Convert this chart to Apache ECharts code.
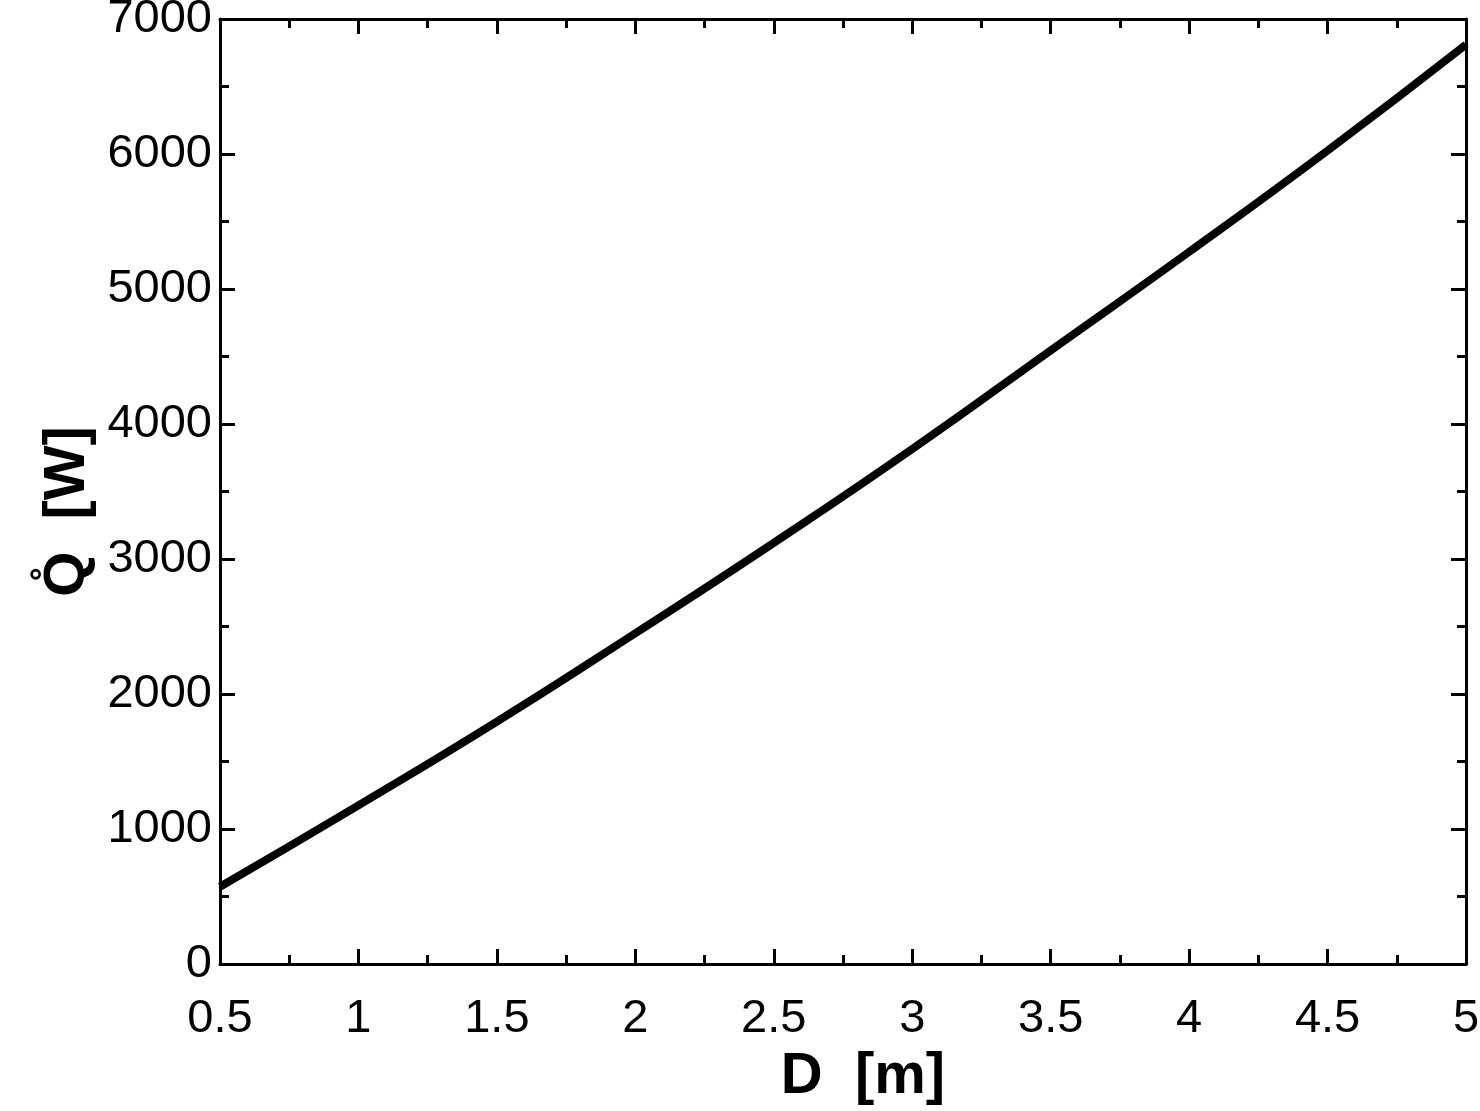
<!DOCTYPE html>
<html><head><meta charset="utf-8">
<script src="https://cdn.jsdelivr.net/npm/echarts@6/dist/echarts.min.js"></script>
<style>html,body{margin:0;padding:0;background:#fff}#c{width:1480px;height:1111px}</style>
</head><body><div id="c"></div>
<script>
const diameters = [0.5, 1, 1.5, 2, 2.5, 3, 3.5, 4, 4.5, 5];
const heatRate = [572, 1175, 1795, 2450, 3120, 3815, 4545, 5275, 6025, 6810];
const xName = 'D  [m]';
const yName = 'Q\u030A  [W]';
const FONT = 'Liberation Sans';

const chart = echarts.init(document.getElementById('c'));
const axisLine = () => ({show: true, onZero: false, lineStyle: {color: '#000', width: 3}});
const tick = () => ({show: true, inside: true, length: 15, lineStyle: {color: '#000', width: 3}});
const minor = () => ({show: true, splitNumber: 2, length: 9, lineStyle: {color: '#000', width: 3}});
chart.setOption({
  animation: false,
  grid: {left: 220, right: 14, top: 19, bottom: 147, containLabel: false, outerBoundsMode: 'none'},
  xAxis: [{
    type: 'value', min: 0.5, max: 5, interval: 0.5, position: 'bottom',
    name: xName, nameLocation: 'middle', nameGap: 80,
    nameTextStyle: {fontFamily: FONT, fontWeight: 'bold', fontSize: 58, color: '#000', padding: [0, 0, 0, 40]},
    axisLine: axisLine(), axisTick: tick(), minorTick: minor(), splitLine: {show: false},
    axisLabel: {fontFamily: FONT, fontSize: 47, color: '#000', margin: 32,
      formatter: v => String(v)}
  }, {
    type: 'value', min: 0.5, max: 5, interval: 0.5, position: 'top',
    axisLine: axisLine(), axisTick: tick(), minorTick: minor(), splitLine: {show: false},
    axisLabel: {show: false}
  }],
  yAxis: [{
    type: 'value', min: 0, max: 7000, interval: 1000, position: 'left',
    name: yName, nameLocation: 'middle', nameGap: 108, nameRotate: 90,
    nameTextStyle: {fontFamily: FONT, fontWeight: 'bold', fontSize: 58, color: '#000', padding: [0, 40, 0, 0]},
    axisLine: axisLine(), axisTick: tick(), minorTick: minor(), splitLine: {show: false},
    axisLabel: {fontFamily: FONT, fontSize: 47, color: '#000', margin: 8, formatter: v => String(v)}
  }, {
    type: 'value', min: 0, max: 7000, interval: 1000, position: 'right',
    axisLine: axisLine(), axisTick: tick(), minorTick: minor(), splitLine: {show: false},
    axisLabel: {show: false}
  }],
  series: [{
    type: 'line', showSymbol: false, smooth: true,
    data: diameters.map((d, i) => [d, heatRate[i]]),
    lineStyle: {color: '#000', width: 8}
  }]
});
</script></body></html>
